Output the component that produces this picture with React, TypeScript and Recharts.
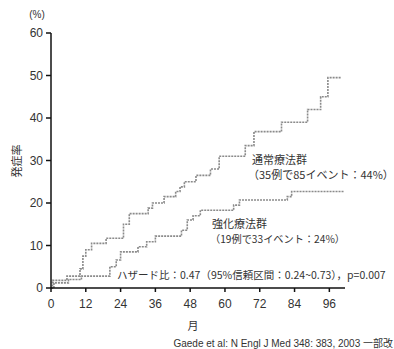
import React from "react";
import { LineChart, Line, XAxis, YAxis } from "recharts";

const conventionalMonths = [0, 0.5, 5.5, 10, 11, 12, 14, 19, 25, 27, 33.5, 35, 39, 43, 44.5, 46, 50, 55, 58, 67, 70, 79.5, 88.5, 93, 95.5, 100];
const conventionalRates = [0, 1.8, 2.8, 4.5, 7.5, 9, 10.5, 11.7, 15, 17.5, 18.8, 20, 21.5, 22.7, 23.8, 25, 26.5, 28, 31, 33.5, 36.8, 39, 42, 45, 49.5, 49.5];

const intensiveMonths = [0, 1, 6, 10.5, 20.3, 22.5, 24, 30, 33, 36, 45, 47, 49, 51.5, 63, 65, 81.5, 83, 101];
const intensiveRates = [0, 1.2, 2, 2.8, 5, 6.6, 8.5, 9.7, 10.9, 12.2, 13.6, 16, 17, 18.3, 19.5, 20.7, 21.5, 22.7, 22.7];

const xTicks = [0, 12, 24, 36, 48, 60, 72, 84, 96];
const yTicks = [0, 10, 20, 30, 40, 50, 60];

const conventionalData = conventionalMonths.map((m, i) => ({ m, v: conventionalRates[i] }));
const intensiveData = intensiveMonths.map((m, i) => ({ m, v: intensiveRates[i] }));

const FONT = "'Liberation Sans', Arial, 'Noto Sans CJK JP', sans-serif";
const JP = "'Noto Sans CJK JP', 'Liberation Sans', sans-serif";
const TXT = "#333";

export default function App() {
  return (
    <div style={{ position: "absolute", left: 0, top: 0, width: 394, height: 349, background: "#fff" }}>
      <LineChart
        width={394}
        height={349}
        margin={{ top: 33, right: 49, left: 0, bottom: 31 }}
      >
        <XAxis
          dataKey="m"
          type="number"
          domain={[0, 101.4]}
          ticks={xTicks}
          allowDataOverflow
          height={30}
          tickSize={4}
          tickMargin={7}
          stroke="#111"
          strokeWidth={1.5}
          tick={{ fill: TXT, fontSize: 12, fontFamily: FONT }}
        />
        <YAxis
          type="number"
          domain={[0, 60]}
          ticks={yTicks}
          width={51}
          tickSize={5}
          tickMargin={3}
          stroke="#111"
          strokeWidth={1.5}
          tick={{ fill: TXT, fontSize: 12, fontFamily: FONT }}
        />
        <Line
          data={conventionalData}
          dataKey="v"
          type="stepAfter"
          stroke="#8a8a8a"
          strokeWidth={1.6}
          strokeDasharray="2 1"
          dot={false}
          isAnimationActive={false}
        />
        <Line
          data={intensiveData}
          dataKey="v"
          type="stepAfter"
          stroke="#8a8a8a"
          strokeWidth={1.6}
          strokeDasharray="2 1"
          dot={false}
          isAnimationActive={false}
        />
      </LineChart>
      <svg
        width={394}
        height={349}
        style={{ position: "absolute", left: 0, top: 0, pointerEvents: "none" }}
      >
        <text x={37} y={18} fontSize={10} fill={TXT} fontFamily={FONT} textAnchor="middle">(%)</text>
        <text
          x={16}
          y={161}
          fontSize={11}
          fill={TXT}
          fontFamily={JP}
          textAnchor="middle"
          dominantBaseline="central"
          transform="rotate(-90 16 161)"
        >
          発症率
        </text>
        <text x={193} y={330} fontSize={11} fill={TXT} fontFamily={JP} textAnchor="middle">月</text>
        <text x={252} y={164} fontSize={11} fill={TXT} fontFamily={JP}>通常療法群</text>
        <text x={248} y={179} fontSize={11} fill={TXT} fontFamily={JP}>（35例で85イベント：44%）</text>
        <text x={212} y={228} fontSize={11} fill={TXT} fontFamily={JP}>強化療法群</text>
        <text x={210} y={243} fontSize={10.2} fill={TXT} fontFamily={JP}>（19例で33イベント：24%）</text>
        <text x={117} y={279} fontSize={10.5} fill={TXT} fontFamily={JP}>
          ハザード比：0.47（95%信頼区間：0.24~0.73），p=0.007
        </text>
        <text x={393} y={347} fontSize={10} fill={TXT} fontFamily={FONT} textAnchor="end">
          Gaede et al: N Engl J Med 348: 383, 2003 一部改
        </text>
      </svg>
    </div>
  );
}
